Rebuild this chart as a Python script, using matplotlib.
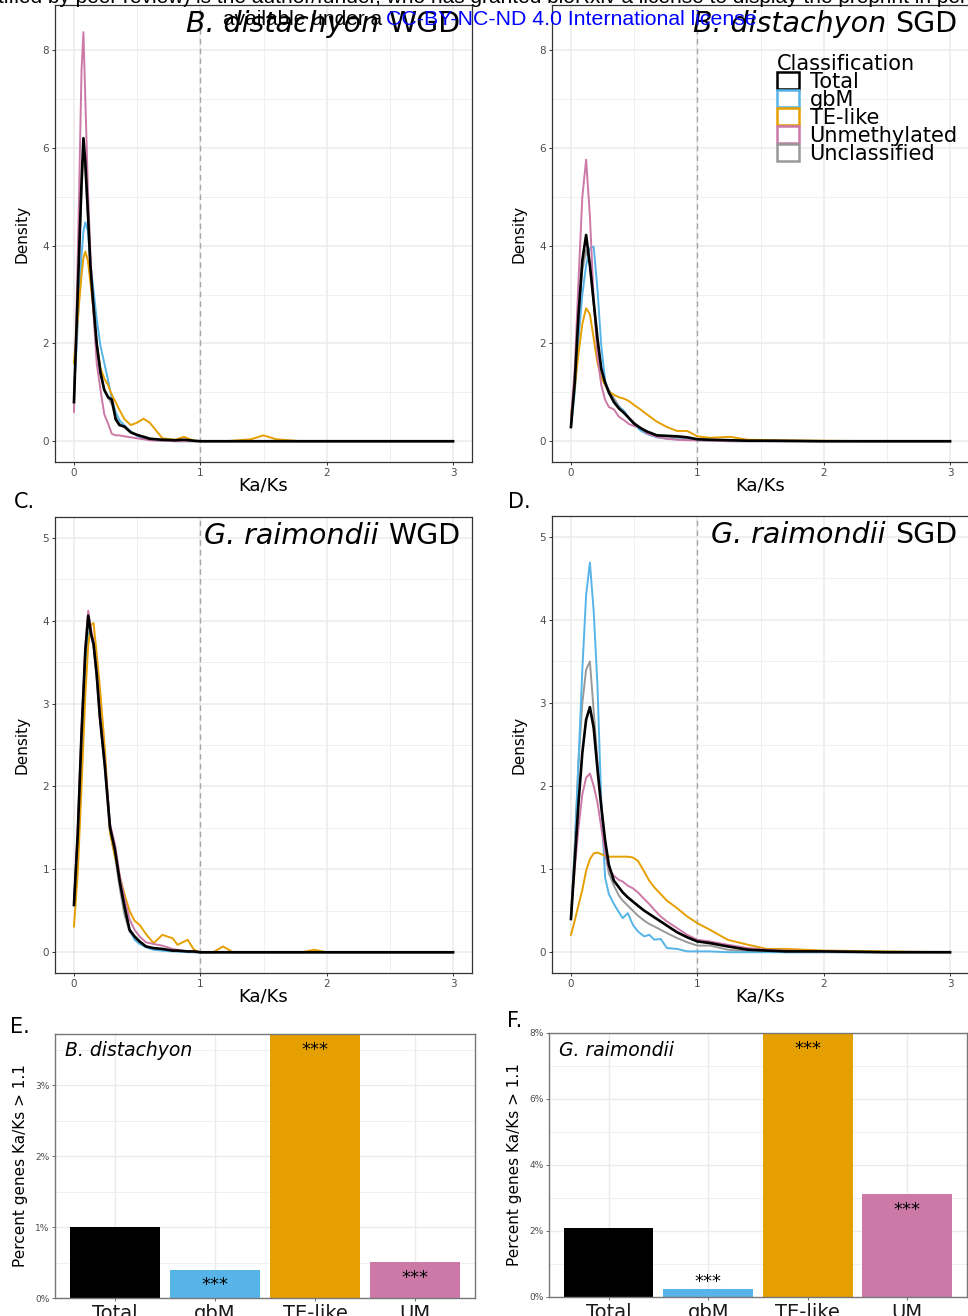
import numpy as np
import matplotlib.pyplot as plt
from matplotlib.patches import Patch
from matplotlib.ticker import MultipleLocator, FuncFormatter

# classes and colours
classes = ['Total', 'gbM', 'TE-like', 'Unmethylated', 'Unclassified']
class_colors = ['#000000', '#56B4E9', '#E69F00', '#CC79A7', '#999999']

# A. B. distachyon WGD
a_x = [0, 0.02, 0.04, 0.06, 0.075, 0.09, 0.11, 0.13, 0.15, 0.18, 0.21, 0.24, 0.27, 0.30, 0.33, 0.36, 0.40,
       0.45, 0.50, 0.55, 0.60, 0.70, 0.80, 0.87, 0.95, 1.0, 1.2, 1.4, 1.5, 1.6, 1.8, 2.0, 2.5, 3.0]
a_total = [0.8, 2.3, 3.8, 5.3, 6.2, 5.7, 4.7, 3.6, 2.9, 2.0, 1.4, 1.05, 0.9, 0.85, 0.45, 0.33, 0.3,
           0.18, 0.13, 0.09, 0.05, 0.03, 0.02, 0.03, 0.01, 0, 0, 0, 0, 0, 0, 0, 0, 0]
a_gbm = [1.0, 1.9, 2.9, 3.8, 4.3, 4.48, 4.3, 3.65, 3.2, 2.5, 1.95, 1.6, 1.25, 0.85, 0.6, 0.43, 0.32,
         0.2, 0.11, 0.06, 0.03, 0.01, 0, 0, 0, 0, 0, 0, 0, 0, 0, 0, 0, 0]
a_te = [1.6, 2.2, 2.8, 3.4, 3.75, 3.88, 3.7, 3.25, 2.8, 1.95, 1.5, 1.28, 1.15, 0.95, 0.8, 0.64, 0.45,
        0.33, 0.38, 0.46, 0.38, 0.06, 0.03, 0.09, 0.01, 0, 0, 0.04, 0.12, 0.04, 0, 0, 0, 0]
a_um = [0.6, 2.6, 5.0, 7.6, 8.37, 7.0, 5.2, 3.85, 2.8, 1.6, 1.05, 0.55, 0.36, 0.15, 0.12, 0.12, 0.1,
        0.08, 0.06, 0.04, 0.02, 0.01, 0, 0, 0, 0, 0, 0, 0, 0, 0, 0, 0, 0]
a_uncl = [0.8, 2.3, 3.8, 5.1, 5.9, 5.5, 4.6, 3.5, 2.8, 2.0, 1.4, 1.05, 0.9, 0.75, 0.5, 0.36, 0.28,
          0.18, 0.12, 0.1, 0.06, 0.02, 0.01, 0.01, 0, 0, 0, 0, 0, 0, 0, 0, 0, 0]

# B. B. distachyon SGD
b_x = [0, 0.03, 0.06, 0.09, 0.12, 0.15, 0.18, 0.21, 0.24, 0.27, 0.30, 0.34, 0.38, 0.42, 0.46,
       0.50, 0.55, 0.60, 0.68, 0.76, 0.84, 0.92, 1.0, 1.1, 1.26, 1.4, 1.6, 2.0, 2.5, 3.0]
b_total = [0.29, 1.2, 2.6, 3.7, 4.22, 3.6, 2.85, 2.1, 1.48, 1.2, 1.0, 0.8, 0.67, 0.58, 0.47,
           0.36, 0.27, 0.2, 0.12, 0.11, 0.1, 0.08, 0.04, 0.03, 0.02, 0.01, 0.01, 0, 0, 0]
b_gbm = [0.3, 1.0, 2.1, 3.0, 3.6, 3.95, 3.98, 3.1, 1.95, 1.25, 0.98, 0.82, 0.7, 0.62, 0.46,
         0.35, 0.22, 0.15, 0.08, 0.05, 0.04, 0.03, 0.02, 0.01, 0, 0, 0, 0, 0, 0]
b_te = [0.53, 1.1, 1.8, 2.4, 2.72, 2.6, 2.1, 1.6, 1.3, 1.15, 1.02, 0.95, 0.9, 0.87, 0.82,
        0.74, 0.65, 0.55, 0.4, 0.29, 0.21, 0.21, 0.1, 0.07, 0.09, 0.03, 0.02, 0.01, 0, 0]
b_um = [0.45, 1.5, 3.3, 5.0, 5.76, 4.6, 2.9, 1.73, 1.15, 0.85, 0.7, 0.65, 0.5, 0.43, 0.35,
        0.31, 0.28, 0.16, 0.09, 0.05, 0.03, 0.02, 0.02, 0.01, 0, 0, 0, 0, 0, 0]
b_uncl = [0.3, 1.2, 2.5, 3.5, 3.91, 3.6, 2.8, 2.0, 1.5, 1.2, 1.05, 0.88, 0.72, 0.6, 0.48,
          0.38, 0.27, 0.2, 0.12, 0.1, 0.08, 0.06, 0.04, 0.03, 0.02, 0.01, 0, 0, 0, 0]

# C. G. raimondii WGD
c_x = [0, 0.03, 0.06, 0.09, 0.113, 0.135, 0.155, 0.18, 0.205, 0.245, 0.285, 0.325, 0.365, 0.40, 0.44,
       0.48, 0.52, 0.57, 0.63, 0.70, 0.78, 0.82, 0.90, 0.95, 1.0, 1.1, 1.18, 1.26, 1.8, 1.9, 2.0, 3.0]
c_total = [0.57, 1.43, 2.64, 3.64, 4.06, 3.84, 3.72, 3.35, 2.84, 2.24, 1.51, 1.23, 0.83, 0.55, 0.27,
           0.19, 0.13, 0.07, 0.05, 0.04, 0.02, 0.02, 0.01, 0.01, 0, 0, 0, 0, 0, 0, 0, 0]
c_gbm = [0.6, 1.4, 2.5, 3.5, 3.86, 3.85, 3.7, 3.35, 2.9, 2.25, 1.55, 1.2, 0.83, 0.55, 0.28,
         0.15, 0.1, 0.06, 0.03, 0.02, 0.01, 0.01, 0, 0, 0, 0, 0, 0, 0, 0, 0, 0]
c_te = [0.31, 0.95, 2.0, 3.1, 3.7, 3.95, 3.97, 3.6, 3.2, 2.45, 1.45, 1.15, 0.9, 0.7, 0.5,
        0.38, 0.33, 0.22, 0.11, 0.21, 0.17, 0.09, 0.15, 0.03, 0, 0, 0.07, 0, 0, 0.03, 0, 0]
c_um = [0.6, 1.5, 2.7, 3.7, 4.12, 3.9, 3.75, 3.4, 2.9, 2.3, 1.55, 1.3, 0.9, 0.65, 0.4,
        0.27, 0.19, 0.12, 0.1, 0.08, 0.04, 0.03, 0.01, 0.01, 0, 0, 0, 0, 0, 0, 0, 0]
c_uncl = [0.57, 1.4, 2.6, 3.6, 4.0, 3.82, 3.7, 3.3, 2.82, 2.2, 1.45, 1.15, 0.75, 0.45, 0.25,
          0.17, 0.12, 0.07, 0.04, 0.03, 0.02, 0.01, 0.01, 0, 0, 0, 0, 0, 0, 0, 0, 0]

# D. G. raimondii SGD
d_x = [0, 0.03, 0.06, 0.09, 0.12, 0.15, 0.18, 0.21, 0.24, 0.27, 0.30, 0.34, 0.38, 0.41, 0.45, 0.49,
       0.53, 0.58, 0.62, 0.66, 0.71, 0.76, 0.84, 0.92, 1.0, 1.1, 1.24, 1.4, 1.55, 1.7, 2.0, 2.5, 3.0]
d_total = [0.4, 1.1, 1.8, 2.4, 2.8, 2.95, 2.7, 2.2, 1.75, 1.35, 1.05, 0.86, 0.78, 0.72, 0.66, 0.61,
           0.56, 0.5, 0.46, 0.42, 0.37, 0.32, 0.24, 0.18, 0.13, 0.11, 0.07, 0.03, 0.02, 0.01, 0.01, 0, 0]
d_gbm = [0.4, 1.2, 2.3, 3.4, 4.3, 4.69, 4.1, 3.2, 1.8, 0.9, 0.7, 0.58, 0.48, 0.41, 0.47, 0.33,
         0.25, 0.19, 0.21, 0.15, 0.16, 0.05, 0.04, 0.01, 0.01, 0.01, 0, 0, 0, 0, 0, 0, 0]
d_te = [0.21, 0.38, 0.57, 0.75, 0.98, 1.12, 1.19, 1.2, 1.18, 1.16, 1.15, 1.15, 1.15, 1.15, 1.15, 1.14,
        1.1, 0.97, 0.86, 0.78, 0.7, 0.62, 0.53, 0.43, 0.35, 0.27, 0.15, 0.09, 0.04, 0.04, 0.02, 0.01, 0]
d_um = [0.45, 1.0, 1.5, 1.9, 2.1, 2.15, 2.0, 1.8, 1.5, 1.2, 1.0, 0.92, 0.87, 0.85, 0.8, 0.77,
        0.72, 0.64, 0.58, 0.51, 0.43, 0.37, 0.29, 0.21, 0.15, 0.13, 0.09, 0.05, 0.03, 0.02, 0.01, 0, 0]
d_uncl = [0.4, 1.3, 2.3, 3.0, 3.4, 3.5, 2.9, 2.3, 1.8, 1.2, 0.95, 0.8, 0.68, 0.62, 0.56, 0.5,
          0.44, 0.38, 0.34, 0.31, 0.27, 0.23, 0.17, 0.12, 0.08, 0.08, 0.03, 0.01, 0.01, 0, 0, 0, 0]

# E / F bar charts: percent genes Ka/Ks > 1.1
bar_labels = ['Total', 'gbM', 'TE-like', 'UM']
bar_colors = ['#000000', '#56B4E9', '#E69F00', '#CC79A7']
bar_sig = ['', '***', '***', '***']
e_values = [1.0, 0.40, 3.72, 0.51]
f_values = [2.10, 0.25, 8.0, 3.11]

W, H = 968, 1316
fig = plt.figure(figsize=(W / 100, H / 100), dpi=100)


def px_axes(left, top, right, bottom):
    return fig.add_axes([left / W, 1 - bottom / H, (right - left) / W, (bottom - top) / H])


def density_panel(ax, x, curves, ylim, ystep, italic, plain):
    ax.set_xlim(-0.15, 3.15)
    ax.set_ylim(*ylim)
    ax.xaxis.set_major_locator(MultipleLocator(1))
    ax.xaxis.set_minor_locator(MultipleLocator(0.5))
    ax.yaxis.set_major_locator(MultipleLocator(ystep))
    ax.yaxis.set_minor_locator(MultipleLocator(ystep / 2))
    ax.grid(which='major', color='#ebebeb', lw=1.1)
    ax.grid(which='minor', color='#f0f0f0', lw=0.7)
    ax.set_axisbelow(True)
    ax.tick_params(which='minor', length=0)
    ax.tick_params(which='major', length=2.3, width=0.7, color='#333333',
                   labelsize=7.5, labelcolor='#4d4d4d', pad=2)
    for sp in ax.spines.values():
        sp.set_color('#333333')
        sp.set_linewidth(0.9)
    ax.axvline(1, color='#a6a6a6', lw=1.0, ls=(0, (4, 3)), zorder=1)
    # draw Unclassified first, Total last
    for i in [4, 1, 2, 3, 0]:
        ax.plot(x, curves[i], color=class_colors[i], lw=1.9 if i == 0 else 1.4,
                zorder=2 + (i == 0), solid_joinstyle='round')
    ax.set_xlabel('Ka/Ks', fontsize=13, labelpad=-1)
    ax.set_ylabel('Density', fontsize=11, labelpad=9)
    t = ax.annotate(plain, xy=(1, 1), xycoords='axes fraction', xytext=(-12, -27),
                    textcoords='offset pixels', ha='right', va='baseline', fontsize=20.5)
    ax.annotate(italic + ' ', xy=(0, 0), xycoords=t, ha='right', va='bottom',
                fontsize=20.5, style='italic')


def bar_panel(ax, values, ytop, ystep, species):
    xpos = np.arange(len(bar_labels))
    ax.bar(xpos, values, width=0.9, color=bar_colors, zorder=2)
    ax.set_xlim(-0.6, 3.6)
    ax.set_ylim(0, ytop)
    ax.set_xticks(xpos)
    ax.set_xticklabels(bar_labels, fontsize=14)
    ax.yaxis.set_major_locator(MultipleLocator(ystep))
    ax.yaxis.set_minor_locator(MultipleLocator(ystep / 2))
    ax.yaxis.set_major_formatter(FuncFormatter(lambda v, p: f'{v:.0f}%'))
    ax.grid(which='major', color='#ebebeb', lw=1.0)
    ax.grid(which='minor', axis='y', color='#f0f0f0', lw=0.7)
    ax.set_axisbelow(True)
    ax.tick_params(which='minor', length=0)
    ax.tick_params(axis='y', which='major', length=2, width=0.6, color='#555555',
                   labelsize=6.5, labelcolor='#4d4d4d', pad=2)
    ax.tick_params(axis='x', length=2.5, width=0.6, color='#555555', pad=1.5, labelcolor='#1a1a1a')
    for sp in ax.spines.values():
        sp.set_color('#777777')
        sp.set_linewidth(1.0)
    ax.set_ylabel('Percent genes Ka/Ks > 1.1', fontsize=11, labelpad=5)
    for xi, v, s in zip(xpos, values, bar_sig):
        if not s:
            continue
        top = min(v, ytop)
        if top / ytop > 0.06:
            ax.annotate(s, (xi, top), xytext=(0, -15), textcoords='offset points',
                        ha='center', va='baseline', fontsize=13, zorder=3)
        else:
            ax.annotate(s, (xi, top), xytext=(0, 1.5), textcoords='offset points',
                        ha='center', va='baseline', fontsize=13, zorder=3)
    ax.annotate(species, xy=(0, 1), xycoords='axes fraction', xytext=(10, -17),
                textcoords='offset pixels', ha='left', va='center', fontsize=13.5, style='italic')


axA = px_axes(55, 5, 472, 462)
axB = px_axes(552, 5, 969, 462)
axC = px_axes(55, 517, 472, 973)
axD = px_axes(552, 516, 969, 973)
axE = px_axes(55, 1034, 475, 1298)
axF = px_axes(549, 1033, 967, 1297)

density_panel(axA, a_x, [a_total, a_gbm, a_te, a_um, a_uncl], (-0.425, 8.925), 2, 'B. distachyon', 'WGD')
density_panel(axB, b_x, [b_total, b_gbm, b_te, b_um, b_uncl], (-0.425, 8.925), 2, 'B. distachyon', 'SGD')
density_panel(axC, c_x, [c_total, c_gbm, c_te, c_um, c_uncl], (-0.25, 5.25), 1, 'G. raimondii', 'WGD')
density_panel(axD, d_x, [d_total, d_gbm, d_te, d_um, d_uncl], (-0.25, 5.25), 1, 'G. raimondii', 'SGD')

bar_panel(axE, e_values, 3.72, 1, 'B. distachyon')
bar_panel(axF, f_values, 8.0, 2, 'G. raimondii')

# legend in panel B
handles = [Patch(facecolor='white', edgecolor=c, linewidth=1.8, label=n)
           for n, c in zip(classes, class_colors)]
axB.legend(handles=handles, title='Classification', loc='upper left',
           bbox_to_anchor=(771 / W, 1 - 48 / H), bbox_transform=fig.transFigure,
           frameon=False, fontsize=15, title_fontsize=15, alignment='left',
           handlelength=1.06, handleheight=0.85, handletextpad=0.5,
           labelspacing=-0.1, borderpad=0.29, borderaxespad=0)

# panel letters
for lab, px, py in [('C.', 14, 508), ('D.', 508, 508), ('E.', 10, 1033), ('F.', 507, 1027)]:
    fig.text(px / W, 1 - py / H, lab, fontsize=15, ha='left', va='baseline')

# bioRxiv watermark
fig.text(-2 / W, 1 - 3 / H,
         'tified by peer review) is the author/funder, who has granted bioRxiv a license to display the preprint in perpetuity',
         fontsize=15, family='Liberation Sans', ha='left', va='baseline')
fig.text(223 / W, 1 - 25 / H, 'available under a', fontsize=15, family='Liberation Sans',
         ha='left', va='baseline')
fig.text(386 / W, 1 - 25 / H, 'CC-BY-NC-ND 4.0 International license', fontsize=15.3,
         family='Liberation Sans', color='#0000ff', ha='left', va='baseline')

fig.savefig('out.png', dpi=100)
